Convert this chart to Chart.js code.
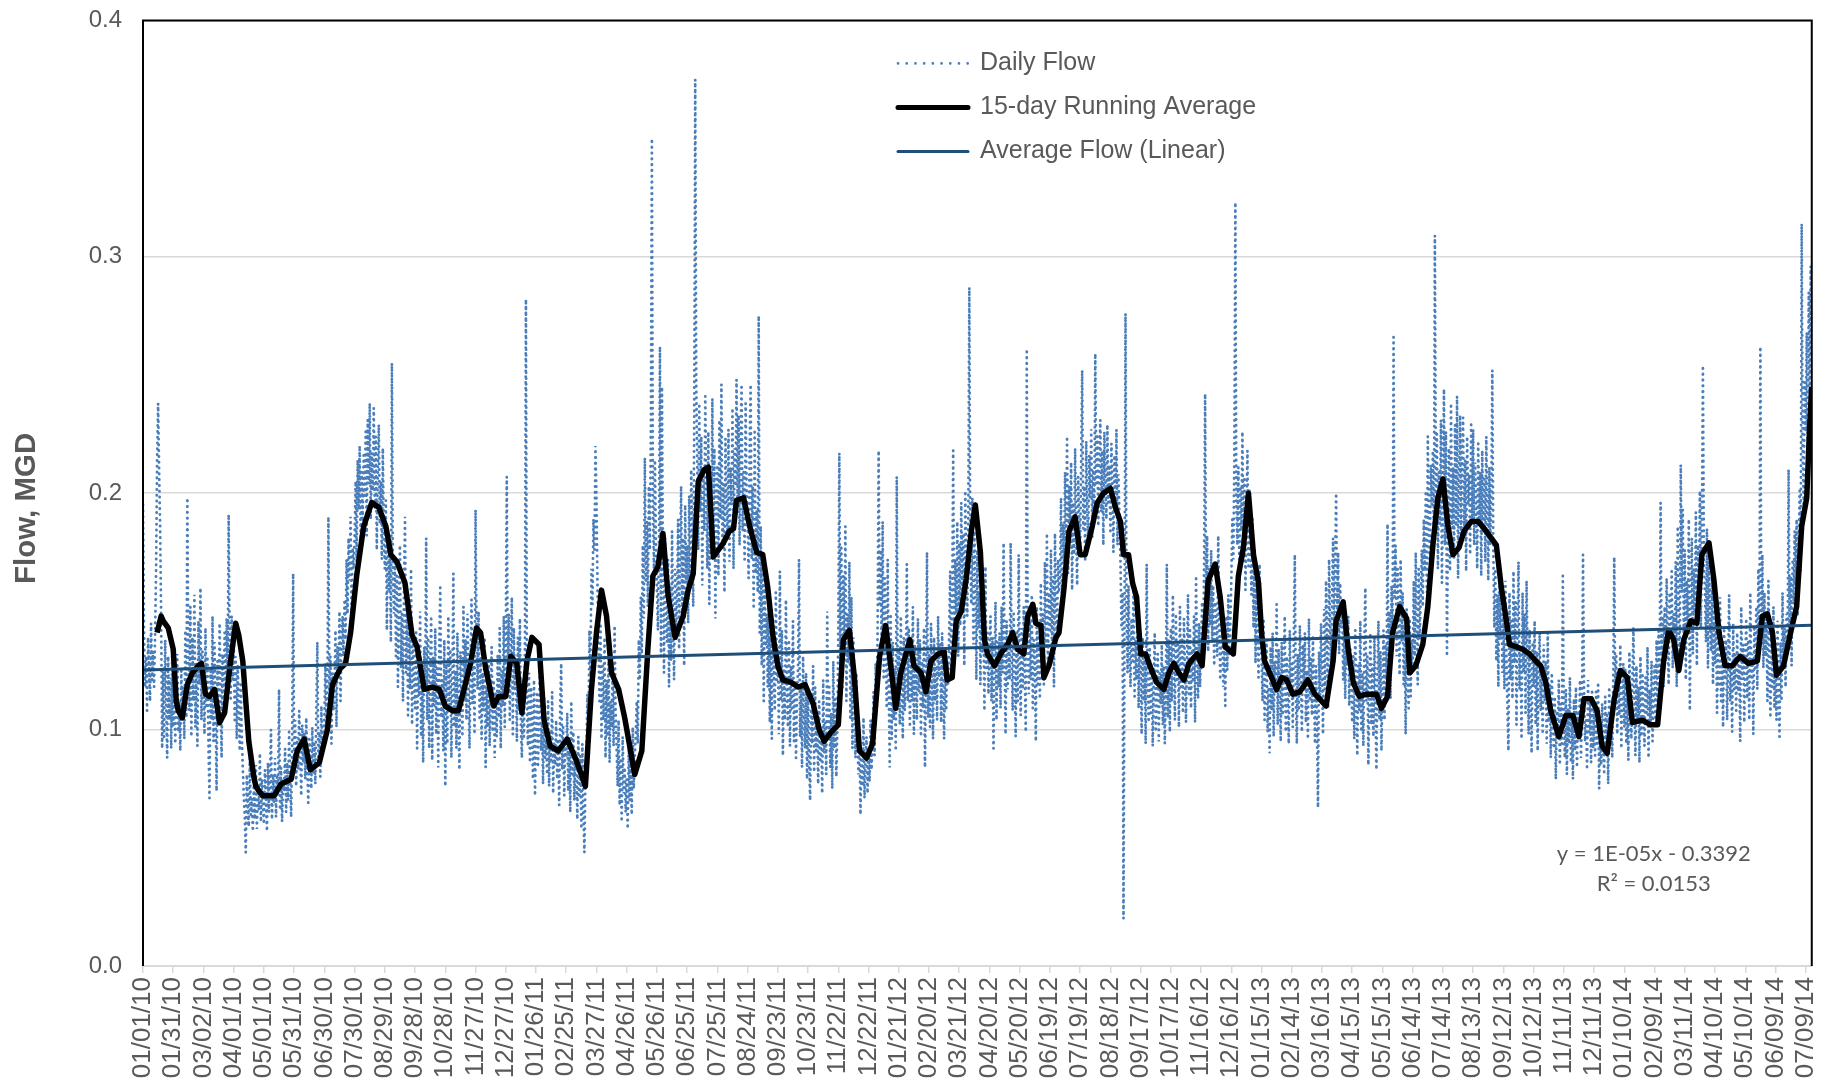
<!DOCTYPE html>
<html>
<head>
<meta charset="utf-8">
<title>Daily Flow</title>
<script src="https://cdn.jsdelivr.net/npm/chart.js@4.4.1/dist/chart.umd.min.js"></script>
<style>
  html, body { margin: 0; padding: 0; background: #fff; }
  canvas { display: block; }
</style>
</head>
<body>
<canvas id="chart" width="1841" height="1084"></canvas>
<script>
// daily flow, thousandths of MGD, one array per year (starts 01/01/10)
const flow2010 = [
  195,142,118,131,108,139,126,112,145,121, 133,118,140,168,214,238,209,186,148,92,
  126,97,138,110,88,131,104,122,92,135, 101,128,94,117,132,99,112,91,125,106,
  118,96,142,105,198,131,108,152,97,139, 112,157,101,128,93,146,119,160,104,133,
  121,98,143,109,131,92,71,126,104,148, 95,137,112,74,129,101,145,118,88,132,
  109,141,118,147,126,191,136,112,148,121, 138,104,131,96,127,112,91,119,98,84,
  72,63,48,81,66,59,88,64,71,57, 78,62,85,58,74,66,90,61,79,68,
  60,83,71,57,86,65,77,100,62,81, 69,88,63,80,72,117,66,84,61,78,
  74,92,65,86,70,99,79,63,94,166, 88,104,76,97,83,108,91,72,102,86,
  99,79,105,84,69,96,88,75,101,82, 94,77,108,137,86,99,80,110,89,96,
  105,128,97,119,190,112,131,94,124,108, 118,142,101,135,126,150,112,139,148,131,
  155,138,172,149,181,163,190,146,177,168, 182,205,171,214,193,220,178,209,188,216,
  199,226,182,231,204,238,189,217,201,236, 193,224,176,210,229,187,205,172,219,181,
  168,197,142,183,159,176,137,255,164,149, 172,131,165,118,156,178,126,149,112,161,
  190,124,152,106,143,117,168,102,138,121, 109,141,92,128,114,150,97,123,86,135,
  118,181,104,139,92,126,148,87,131,110, 143,98,127,84,136,160,105,121,91,138,
  76,129,94,148,109,134,88,119,166,101, 125,92,141,106,83,133,115,97,152,112,
  138,104,149,119,92,127,155,111,136,98, 193,142,117,150,105,131,96,124,108,139,
  84,118,101,129,93,114,135,99,121,88, 116,97,132,105,143,92,125,110,148,101,
  138,207,122,149,104
];
const flow2011 = [
  131,156,98,143,117,
  126,95,139,108,147,101,88,121,97,134, 282,112,93,124,86,118,105,79,121,72,
  98,116,84,109,127,91,103,77,114,88, 95,81,112,76,99,87,116,73,94,85,
  104,79,96,68,110,128,83,101,72,93, 88,107,74,96,65,112,81,99,70,91,
  83,62,97,71,89,58,94,66,48,77, 88,115,96,142,124,168,153,189,176,220,
  198,161,137,112,145,96,128,104,139,88, 121,97,134,86,112,101,127,93,144,108,
  92,76,104,68,88,61,97,73,84,65, 79,58,93,70,86,64,101,75,89,98,
  112,94,138,121,156,132,178,147,215,163, 188,152,203,176,229,350,197,168,214,181,
  159,142,176,262,131,245,168,124,182,147, 137,172,118,161,129,184,145,121,168,139,
  156,189,134,172,203,148,181,127,195,162, 178,145,199,163,210,187,152,231,375,248,
  213,176,238,192,224,161,209,184,241,197, 168,226,153,207,181,240,172,219,147,198,
  212,165,231,189,246,176,204,158,223,193, 182,227,171,211,195,236,168,219,203,248,
  197,233,178,221,246,184,209,172,238,201, 188,164,219,246,172,203,151,227,166,193,
  158,275,141,186,127,173,112,161,135,149, 118,152,103,139,96,147,126,108,158,121,
  134,98,167,112,142,89,125,104,155,117, 101,138,93,127,109,146,95,121,88,114,
  126,172,97,118,84,131,106,92,124,79, 115,88,70,109,94,127,82,118,91,103,
  77,112,86,98,73,121,90,104,81,150, 96,118,84,107,75,129,92,113,80,101,
  142,217,126,178,118,165,134,186,112,149, 128,171,104,156,92,139,117,88,124,96,
  81,99,64,92,76,105,71,88,97,73, 91,78,104,83,97,116,89,128,107,142
];
const flow2012 = [
  218,153,176,132,188,121,164,141,109,172, 118,84,149,96,137,104,126,91,207,113,
  134,102,148,117,96,139,108,125,170,112, 143,101,129,112,152,98,136,119,104,147,
  116,138,97,129,109,143,84,121,175,105, 132,101,145,118,96,139,112,127,104,148,
  122,137,103,141,115,96,133,108,128,119, 141,167,126,153,218,137,172,149,188,131,
  179,144,196,158,183,127,201,166,148,192, 287,171,153,198,136,184,162,121,176,143,
  158,119,164,132,147,108,169,126,141,115, 133,148,112,139,92,126,154,104,137,118,
  141,109,152,124,179,131,98,146,117,137, 121,179,134,108,149,126,97,141,112,174,
  128,106,143,117,152,124,99,261,138,115, 146,121,157,109,138,127,95,152,118,140,
  113,162,128,149,119,171,135,183,124,158, 142,176,131,165,118,183,151,137,172,158,
  164,198,152,187,171,209,180,224,166,203, 187,213,159,196,174,219,183,161,207,190,
  176,214,252,185,203,171,222,194,179,216, 198,227,181,210,189,259,203,224,186,215,
  231,192,218,178,226,205,189,229,196,212, 184,221,202,175,216,193,227,178,208,189,
  171,143,158,20,139,276,152,124,161,133, 118,147,129,162,114,138,121,155,109,142,
  126,98,139,112,131,94,170,118,103,135, 107,128,93,121,141,99,116,132,95,124,
  111,136,102,127,94,118,170,105,138,99, 143,112,157,128,104,149,121,136,101,152,
  118,139,107,147,126,103,131,157,115,142, 109,134,121,148,103,165,127,113,145,118,
  136,154,127,171,242,149,182,133,168,144, 176,138,161,127,154,143,131,182,146,121,
  139,152,118,136,110,148,125,157,131,144, 163,189,172,214,323,196,178,211,166,203,
  184,226,171,207,159,192
];
const flow2013 = [
  218,168,201,174,
  157,189,143,176,128,161,149,122,170,138, 131,112,147,104,126,138,99,118,90,135,
  108,141,97,129,115,153,102,134,121,95, 137,106,124,148,99,131,113,94,142,117,
  128,101,139,174,115,94,132,108,144,121, 99,136,117,141,103,125,96,147,112,130,
  106,139,118,94,127,101,67,133,112,145, 124,98,151,117,163,134,109,172,146,128,
  158,181,137,169,200,148,175,132,162,143, 154,121,146,113,139,127,148,110,135,122,
  103,131,96,142,118,89,127,108,146,99, 124,93,137,160,112,131,85,119,141,102,
  128,97,139,110,83,123,146,104,133,91, 117,142,104,136,121,187,128,150,113,161,
  139,266,156,178,131,168,145,123,172,137, 158,119,143,98,151,126,109,147,114,138,
  124,163,131,175,142,119,168,138,157,176, 152,189,167,201,158,224,183,171,212,195,
  218,176,309,197,225,168,209,187,231,162, 204,244,178,226,131,193,219,167,238,185,
  211,172,229,186,241,164,203,233,179,216, 232,181,214,167,224,195,208,174,229,189,
  227,178,213,192,168,221,187,209,165,218, 183,206,171,224,192,163,211,178,199,252,
  176,143,168,129,157,118,171,138,162,124, 149,117,163,132,108,91,158,121,146,113,
  167,128,154,102,143,171,117,135,96,158, 124,149,107,163,131,98,142,115,90,137,
  118,146,102,133,91,127,141,108,123,98, 136,112,129,94,141,103,119,88,124,106,
  92,114,79,108,97,121,85,111,94,165, 102,88,117,81,109,94,122,86,105,79,
  113,91,118,84,107,96,121,88,110,174, 118,95,104,83,121,99,112,86,117,92,
  108,89,116,94,120,75,103,85,111,92, 82,114,93,106,77,118,98,109,88,121,
  173
];
const flow2014 = [
  112,131,98,124,106,136,92,119,128,
  101,126,94,118,87,133,109,96,121,143, 112,89,127,103,118,86,131,97,124,108,
  93,122,106,135,88,117,101,129,95,114, 127,104,138,112,143,121,196,131,148,118,
  152,129,164,137,119,158,141,167,126,149, 133,171,118,186,147,125,212,158,193,139,
  176,121,163,142,189,108,154,181,132,168, 149,192,127,178,161,201,143,186,254,172,
  158,137,185,126,171,148,133,164,119,152, 128,147,107,139,118,156,112,134,101,143,
  121,138,104,129,157,112,126,99,145,117, 132,108,141,116,127,95,152,121,136,103,
  129,147,113,138,104,158,121,132,98,144, 126,152,117,168,139,262,143,174,126,158,
  131,147,112,163,124,105,139,118,152,109, 128,104,146,119,97,137,112,158,126,143,
  118,149,132,210,141,165,127,172,153,184, 161,189,148,176,201,167,314,218,193,247,
  226,268,211,285,239,296,258
];

// 15-day running average: day number (0 = 01/01/10) and value in thousandths
const runAvgDays = [
  14,18,20,25,30,33,35,39,44,49,55,58,62,66,71,76,81,86,92,95,99,105,110,112,115,119,130,137,147,153,
  160,166,175,183,188,196,201,206,212,219,227,234,241,246,252,260,267,272,279,287,294,300,307,313,318,325,331,335,340,348,
  353,360,365,371,376,381,386,393,398,404,412,421,429,435,439,445,450,455,460,465,472,478,488,495,501,506,511,516,521,528,
  536,541,546,551,557,561,566,576,582,586,589,596,602,609,615,620,625,630,635,643,650,657,665,671,676,683,690,695,701,706,
  711,718,724,731,737,742,747,752,761,765,772,777,782,789,795,798,803,807,812,817,822,826,831,835,838,845,851,858,863,868,
  874,878,883,886,891,894,899,906,909,914,919,925,930,935,942,947,953,960,965,970,973,978,982,986,990,995,1000,1006,1013,1018,
  1023,1028,1033,1038,1046,1051,1057,1064,1069,1074,1082,1087,1092,1097,1102,1107,1110,1113,1120,1125,1130,1135,1141,1148,1156,1163,1174,1181,1184,1191,
  1196,1201,1207,1214,1224,1229,1235,1240,1247,1254,1257,1263,1270,1275,1280,1285,1290,1295,1300,1306,1311,1318,1325,1331,1338,1343,1348,1353,1356,1363,
  1369,1376,1382,1387,1392,1397,1405,1412,1419,1425,1430,1437,1443,1448,1453,1460,1466,1473,1478,1488,1496,1503,1509,1514,1519,1524,1529,1536,1542,1547,
  1554,1559,1564,1570,1577,1585,1593,1602,1607,1612,1617,1621,1628,1635,1641,1646,1651,1654,1656
];
const runAvgValues = [
  141,148,146,143,134,112,108,105,119,124,127,128,115,114,117,103,107,126,145,140,129,95,80,76,74,72,72,77,79,91,
  96,83,86,100,119,126,128,141,165,186,196,194,186,174,171,162,140,135,117,118,117,110,108,108,116,128,143,141,126,110,
  114,114,131,128,107,129,139,136,104,93,91,96,88,81,76,117,141,159,148,124,117,105,81,91,134,165,169,183,157,139,
  148,159,166,205,210,211,173,179,184,185,197,198,186,175,174,160,140,127,121,120,118,119,111,100,95,99,102,138,142,122,
  91,88,94,131,144,127,109,124,138,127,124,116,129,132,133,121,122,146,150,164,184,195,175,138,132,127,132,136,141,134,
  132,148,153,145,144,122,127,139,141,160,184,190,174,174,186,196,200,202,194,188,174,174,162,156,132,132,126,120,117,124,
  128,124,121,128,132,127,163,170,156,135,132,165,177,200,174,162,141,129,122,117,122,121,115,116,121,115,110,129,146,154,
  134,120,114,115,115,109,114,141,152,147,124,127,136,152,178,198,206,186,174,177,184,188,188,185,181,178,160,146,136,135,
  134,132,129,127,120,108,97,106,106,97,113,113,108,93,90,113,125,122,103,104,102,102,129,142,138,125,138,146,145,174,
  179,163,141,127,127,131,128,129,148,149,141,123,127,141,152,186,198,229,245
];

// linear trend of the daily flow, read at both ends of the axis
const trendDays = [0, 1656];
const trendValues = [0.1252, 0.1441];

// one label every 30 days
const tickLabels = [
  '01/01/10','01/31/10','03/02/10','04/01/10','05/01/10','05/31/10','06/30/10','07/30/10','08/29/10','09/28/10',
  '10/28/10','11/27/10','12/27/10','01/26/11','02/25/11','03/27/11','04/26/11','05/26/11','06/25/11','07/25/11',
  '08/24/11','09/23/11','10/23/11','11/22/11','12/22/11','01/21/12','02/20/12','03/21/12','04/20/12','05/20/12',
  '06/19/12','07/19/12','08/18/12','09/17/12','10/17/12','11/16/12','12/16/12','01/15/13','02/14/13','03/16/13',
  '04/15/13','05/15/13','06/14/13','07/14/13','08/13/13','09/12/13','10/12/13','11/11/13','12/11/13','01/10/14',
  '02/09/14','03/11/14','04/10/14','05/10/14','06/09/14','07/09/14'
];
const yTitle = 'Flow, MGD';
const equationLines = ['y = 1E-05x - 0.3392', 'R\u00B2 = 0.0153'];

const dailyFlow = [].concat(flow2010, flow2011, flow2012, flow2013, flow2014);
const lastDay = dailyFlow.length - 1;

const FONT = "'Liberation Sans', Arial, sans-serif";
const GREY = '#595959';
Chart.defaults.font.family = FONT;
Chart.defaults.color = GREY;

// plot frame, axis title, legend rows and the trendline equation
const overlay = {
  id: 'overlay',
  afterDraw(chart) {
    const { ctx, chartArea: a } = chart;
    ctx.save();
    ctx.strokeStyle = '#000';
    ctx.lineWidth = 2;
    ctx.beginPath();
    ctx.moveTo(a.left, a.bottom);
    ctx.lineTo(a.left, a.top);
    ctx.lineTo(a.right, a.top);
    ctx.lineTo(a.right, a.bottom);
    ctx.stroke();

    // y axis title, sits a little below the middle of the plot
    ctx.save();
    ctx.translate(27, a.top + 488);
    ctx.rotate(-Math.PI / 2);
    ctx.font = 'bold 29.5px ' + FONT;
    ctx.fillStyle = GREY;
    ctx.textAlign = 'center';
    ctx.textBaseline = 'middle';
    ctx.fillText(yTitle, 0, 0);
    ctx.restore();

    ctx.font = '25px ' + FONT;
    ctx.textBaseline = 'middle';
    ctx.textAlign = 'left';
    ctx.fillStyle = GREY;
    chart.data.datasets.forEach((ds, i) => {
      const y = a.top + 43 + i * 44;
      const x0 = a.left + 755;
      ctx.save();
      ctx.strokeStyle = ds.borderColor;
      ctx.lineWidth = ds.legendWidth;
      ctx.lineCap = 'round';
      ctx.setLineDash(ds.legendDash || []);
      ctx.beginPath();
      ctx.moveTo(x0, y);
      ctx.lineTo(x0 + 70, y);
      ctx.stroke();
      ctx.restore();
      ctx.fillText(ds.label, x0 + 82, y);
    });

    ctx.font = "22px Lato, 'Liberation Sans', sans-serif";
    ctx.textAlign = 'center';
    ctx.fillText(equationLines[0], a.right - 158, a.bottom - 112);
    ctx.fillText(equationLines[1], a.right - 158, a.bottom - 82);
    ctx.restore();
  }
};

new Chart(document.getElementById('chart'), {
  type: 'line',
  data: {
    datasets: [
      {
        label: 'Daily Flow',
        data: dailyFlow.map((v, i) => ({ x: i, y: v / 1000 })),
        borderColor: '#4a7ebb',
        borderWidth: 2.8,
        borderDash: [0.3, 5.5],
        borderCapStyle: 'round',
        pointRadius: 0,
        order: 3,
        legendDash: [0.1, 8.6],
        legendWidth: 2.6
      },
      {
        label: '15-day Running Average',
        data: runAvgDays.map((d, i) => ({ x: d, y: runAvgValues[i] / 1000 })),
        borderColor: '#000000',
        borderWidth: 5.5,
        borderJoinStyle: 'round',
        pointRadius: 0,
        order: 2,
        legendWidth: 5
      },
      {
        label: 'Average Flow (Linear)',
        data: trendDays.map((d, i) => ({ x: d, y: trendValues[i] })),
        borderColor: '#1f4e79',
        borderWidth: 3,
        pointRadius: 0,
        order: 1,
        legendWidth: 3
      }
    ]
  },
  options: {
    responsive: false,
    animation: false,
    devicePixelRatio: 1,
    layout: { padding: { top: 5, right: 24, left: 0, bottom: 0 } },
    plugins: { legend: { display: false }, tooltip: { enabled: false } },
    scales: {
      x: {
        type: 'linear',
        min: 0,
        max: lastDay,
        afterBuildTicks: s => { s.ticks = tickLabels.map((t, i) => ({ value: i * 30 })); },
        afterFit: s => { s.height = 118; },
        ticks: {
          autoSkip: false,
          minRotation: 90,
          maxRotation: 90,
          padding: 4,
          color: GREY,
          font: { size: 26 },
          callback: v => tickLabels[Math.round(v / 30)]
        },
        grid: { drawOnChartArea: false, drawTicks: true, tickLength: 7, color: '#d9d9d9', lineWidth: 1.5 },
        border: { color: '#d9d9d9', width: 2 }
      },
      y: {
        min: 0,
        max: 0.4,
        afterFit: s => { s.width = 143; },
        ticks: { stepSize: 0.1, padding: 6, color: GREY, font: { size: 24 }, callback: v => v.toFixed(1) },
        grid: { color: '#d9d9d9', lineWidth: 1.5, drawTicks: true, tickLength: 15, tickColor: 'rgba(0,0,0,0)' },
        border: { display: false }
      }
    }
  },
  plugins: [overlay]
});
</script>
</body>
</html>
